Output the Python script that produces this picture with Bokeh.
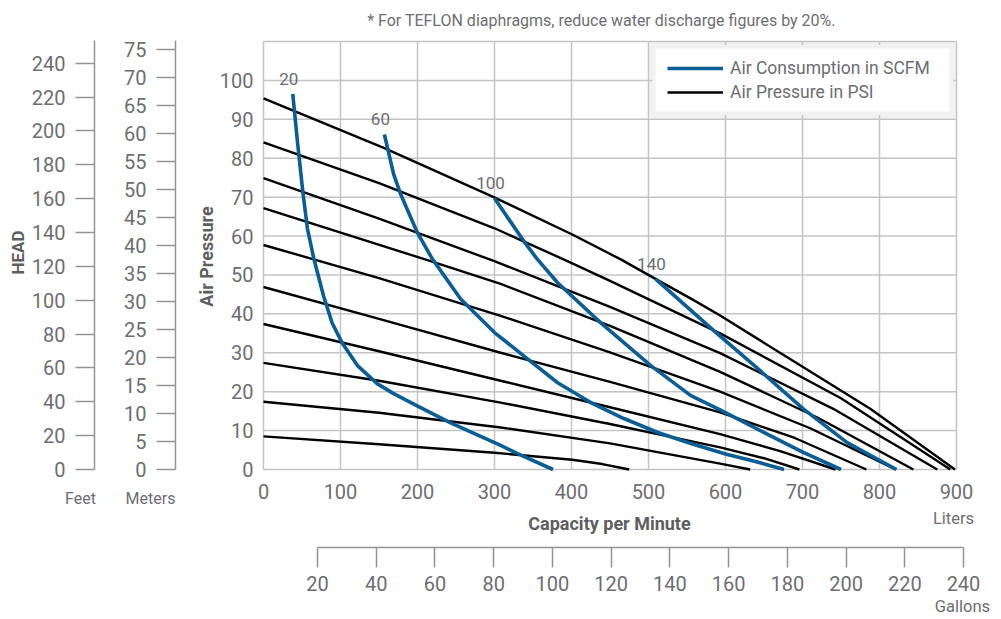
import math
from bokeh.plotting import figure
from bokeh.models import Range1d, LinearAxis, FixedTicker, Label, Legend, LegendItem, BoxAnnotation
from bokeh.core.properties import value
from bokeh.embed import file_html
from bokeh.resources import INLINE

FONT = "Roboto"
TXT = "#6d6e71"
BOLD_TXT = "#5d5e60"
BLUE = "#0b5d95"
GRID = "#c3c4c6"
AXIS = "#939598"

# ---------------- data ----------------
capacity_ticks = [0, 100, 200, 300, 400, 500, 600, 700, 800, 900]          # liters / min
pressure_ticks = [0, 10, 20, 30, 40, 50, 60, 70, 80, 90, 100]
feet_ticks = [0, 20, 40, 60, 80, 100, 120, 140, 160, 180, 200, 220, 240]
meters_ticks = [0, 5, 10, 15, 20, 25, 30, 35, 40, 45, 50, 55, 60, 65, 70, 75]
gallon_ticks = [20, 40, 60, 80, 100, 120, 140, 160, 180, 200, 220, 240]
capacity_max = 900
pressure_max = 110

# black curves: air pressure lines (capacity in liters/min, value on the pressure scale)
psi_a_cap = [0, 157, 299, 401, 464, 509, 558, 593, 687, 788, 898]
psi_a_val = [95.4, 82.6, 70.0, 60.4, 54.0, 49.0, 43.6, 39.6, 28.0, 15.6, 0]
psi_b_cap = [0, 150, 300, 401, 450, 593, 750, 892]
psi_b_val = [84.1, 73.6, 62.0, 53.0, 48.5, 35.0, 18.3, 0]
psi_c_cap = [0, 150, 299, 450, 593, 740, 875]
psi_c_val = [74.9, 64.5, 53.6, 41.8, 29.9, 15.6, 0]
psi_d_cap = [0, 213, 308, 450, 593, 720, 844]
psi_d_val = [67.2, 53.8, 47.7, 36.9, 25.1, 13.3, 0]
psi_e_cap = [0, 150, 308, 450, 593, 710, 821]
psi_e_val = [57.7, 49.2, 39.5, 30.1, 20.0, 10.6, 0]
psi_f_cap = [0, 150, 308, 450, 593, 690, 783]
psi_f_val = [46.9, 38.7, 30.0, 22.5, 14.7, 8.1, 0]
psi_g_cap = [0, 150, 308, 450, 593, 670, 743]
psi_g_val = [37.4, 30.4, 22.8, 16.0, 9.1, 4.8, 0]
psi_h_cap = [0, 150, 308, 450, 593, 650, 696]
psi_h_val = [27.4, 22.8, 17.2, 11.7, 5.7, 2.9, 0]
psi_i_cap = [0, 150, 308, 450, 593, 632]
psi_i_val = [17.4, 14.6, 10.8, 6.7, 1.5, 0]
psi_j_cap = [0, 150, 300, 401, 440, 475]
psi_j_val = [8.5, 6.5, 4.3, 2.5, 1.4, 0]

# blue curves: air consumption (SCFM)
scfm_labels = ["20", "60", "100", "140"]
scfm20_cap = [38, 44, 51, 57, 65, 78, 89, 102, 122, 148, 169, 204, 243, 308, 330, 376]
scfm20_val = [96.5, 84.4, 71.5, 62.0, 54.5, 44.6, 37.7, 32.6, 26.7, 22.0, 19.5, 15.9, 12.0, 6.2, 4.1, 0]
scfm60_cap = [157, 169, 178, 200, 219, 256, 300, 338, 382, 425, 468, 512, 555, 600, 640, 676]
scfm60_val = [86.1, 75.9, 70.8, 60.8, 54.2, 43.8, 35.2, 29.2, 22.3, 17.2, 13.1, 9.5, 6.7, 4.0, 2.0, 0]
scfm100_cap = [300, 338, 355, 382, 438, 503, 555, 593, 658, 701, 750]
scfm100_val = [69.7, 58.7, 54.2, 48.0, 37.7, 26.7, 19.0, 15.3, 8.7, 4.4, 0]
scfm140_cap = [509, 550, 584, 645, 701, 758, 822]
scfm140_val = [49.0, 41.8, 35.8, 25.4, 15.6, 6.9, 0]

psi_lines = [(psi_a_cap, psi_a_val), (psi_b_cap, psi_b_val), (psi_c_cap, psi_c_val),
             (psi_d_cap, psi_d_val), (psi_e_cap, psi_e_val), (psi_f_cap, psi_f_val),
             (psi_g_cap, psi_g_val), (psi_h_cap, psi_h_val), (psi_i_cap, psi_i_val),
             (psi_j_cap, psi_j_val)]
scfm_lines = [(scfm20_cap, scfm20_val), (scfm60_cap, scfm60_val),
              (scfm100_cap, scfm100_val), (scfm140_cap, scfm140_val)]

# ---------------- geometry (pixels on the canvas) ----------------
W, H = 998, 616
X0_PX, X900_PX = 263, 956        # capacity 0 and 900 L
Y0_PX, Y110_PX = 469, 41         # pressure 0 and 110
SX = (X900_PX - X0_PX) / 900.0
SY = (Y0_PX - Y110_PX) / 110.0


def dx(px):
    return (px - X0_PX) / SX


def dy(py):
    return (Y0_PX - py) / SY


PPF = (Y0_PX - 62.7) / 240.0     # px per foot
PPM = (Y0_PX - 49.3) / 75.0      # px per meter
G20_PX, G240_PX = 317, 963
PPG = (G240_PX - G20_PX) / 220.0  # px per gallon

p = figure(width=W, height=H,
           x_range=Range1d(dx(0), dx(W)), y_range=Range1d(dy(H), dy(0)),
           x_axis_location=None, y_axis_location=None,
           output_backend="svg", toolbar_location=None,
           min_border_left=0, min_border_right=0, min_border_top=0, min_border_bottom=0)
p.background_fill_color = "white"
p.border_fill_color = "white"
p.outline_line_color = None
p.xgrid.visible = False
p.ygrid.visible = False

p.extra_y_ranges = {"feet": Range1d(-(H - Y0_PX) / PPF, Y0_PX / PPF),
                    "meters": Range1d(-(H - Y0_PX) / PPM, Y0_PX / PPM)}
p.extra_x_ranges = {"gal": Range1d(20 - G20_PX / PPG, 20 + (W - G20_PX) / PPG)}

# grid of the chart area (drawn from the tick lists)
p.segment(x0=capacity_ticks, y0=[0] * len(capacity_ticks),
          x1=capacity_ticks, y1=[pressure_max] * len(capacity_ticks),
          line_color=GRID, line_width=1.5)
h_rows = pressure_ticks + [pressure_max]
p.segment(x0=[0] * len(h_rows), y0=h_rows, x1=[capacity_max] * len(h_rows), y1=h_rows,
          line_color=GRID, line_width=1.5)


def plain_axis(ticks, **kw):
    return LinearAxis(ticker=FixedTicker(ticks=ticks), axis_line_color=None,
                      major_tick_line_color=None, minor_tick_line_color=None,
                      major_tick_out=0, major_tick_in=0, minor_tick_out=0, minor_tick_in=0,
                      major_label_text_font=FONT, major_label_text_font_size="20px",
                      major_label_text_color=TXT, **kw)


def ruled_axis(ticks, tick_len, **kw):
    return LinearAxis(ticker=FixedTicker(ticks=ticks), axis_line_color=AXIS, axis_line_width=1.5,
                      major_tick_line_color=AXIS, major_tick_line_width=1.5,
                      major_tick_out=tick_len, major_tick_in=0,
                      minor_tick_line_color=None, minor_tick_out=0, minor_tick_in=0,
                      major_label_text_font=FONT, major_label_text_font_size="20px",
                      major_label_text_color=TXT, **kw)


# capacity (liters) axis and air pressure axis
p.add_layout(plain_axis(capacity_ticks, fixed_location=0, bounds=(0, capacity_max),
                        major_label_standoff=14), "below")
p.add_layout(plain_axis(pressure_ticks, fixed_location=0, bounds=(0, 100),
                        major_label_standoff=10), "left")
# head scales
p.add_layout(ruled_axis(meters_ticks, 19, y_range_name="meters", fixed_location=dx(175),
                        bounds=(0, (Y0_PX - 40) / PPM), major_label_standoff=10), "left")
p.add_layout(ruled_axis(feet_ticks, 19, y_range_name="feet", fixed_location=dx(94),
                        bounds=(0, (Y0_PX - 40) / PPF), major_label_standoff=10), "left")
# gallons scale
p.add_layout(ruled_axis(gallon_ticks, 20, x_range_name="gal", fixed_location=dy(547),
                        bounds=(20, 240), major_label_standoff=8), "below")

# ---------------- curves ----------------
psi_renderers = [p.line(cx, cy, line_color="black", line_width=2.4, line_join="round")
                 for cx, cy in psi_lines]
scfm_renderers = [p.line(cx, cy, line_color=BLUE, line_width=3.6, line_join="round")
                  for cx, cy in scfm_lines]

p.text(x=[c[0][0] for c in scfm_lines], y=[c[1][0] for c in scfm_lines], text=scfm_labels,
       x_offset=-4, y_offset=-15, text_align="center", text_baseline="middle",
       text_font=value(FONT), text_font_size="17px", text_color=TXT)

# ---------------- legend ----------------
box = BoxAnnotation(left=dx(651.5), right=dx(952.5), bottom=dy(114.5), top=dy(44.5),
                    fill_color="white", fill_alpha=1.0,
                    line_color="#cfd0d2", line_width=7)
p.add_layout(box)

legend = Legend(items=[LegendItem(label="Air Consumption in SCFM", renderers=[scfm_renderers[0]]),
                       LegendItem(label="Air Pressure in PSI", renderers=[psi_renderers[0]])],
                location=(667, H - 104), orientation="vertical",
                background_fill_alpha=0, border_line_alpha=0,
                glyph_width=56, glyph_height=24, label_height=24, label_standoff=7,
                spacing=0, padding=0, margin=0,
                label_text_font=FONT, label_text_font_size="17.5px", label_text_color=TXT,
                label_text_baseline="middle")
p.add_layout(legend)


# ---------------- texts ----------------
def note(text, px, py, size, color=TXT, style="normal", angle=0.0):
    p.add_layout(Label(x=dx(px), y=dy(py), text=text, text_align="center", text_baseline="middle",
                       text_font=FONT, text_font_size=size, text_color=color,
                       text_font_style=style, angle=angle))


note("* For TEFLON diaphragms, reduce water discharge figures by 20%.", 601, 20, "16px")
note("HEAD", 17, 252, "17px", BOLD_TXT, "bold", math.pi / 2)
note("Air Pressure", 206, 256, "18px", BOLD_TXT, "bold", math.pi / 2)
note("Capacity per Minute", 609, 523, "18px", BOLD_TXT, "bold")
note("Feet", 80, 498, "16px")
note("Meters", 150, 498, "16px")
note("Liters", 953, 518, "16.5px")
note("Gallons", 962, 606, "16.5px")

open("out.html", "w").write(file_html(p, INLINE))
